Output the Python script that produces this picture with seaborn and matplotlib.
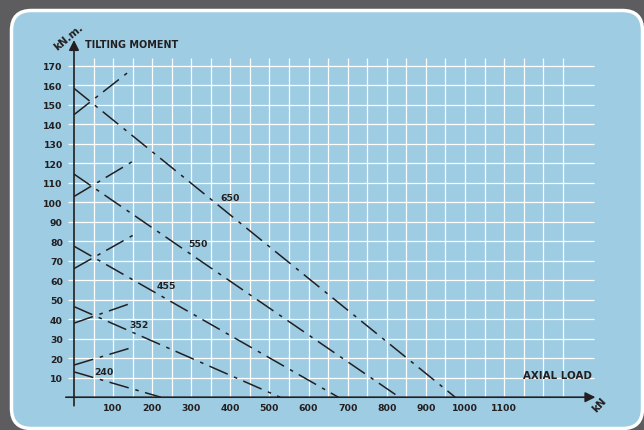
import matplotlib
matplotlib.use("Agg")
import matplotlib.pyplot as plt
import pandas as pd
import seaborn as sns
from matplotlib.patches import FancyBboxPatch

# rating of each limit curve
ratings = ["650", "550", "455", "352", "240"]
# tilting moment where each limit line starts on the y axis (kN.m)
moment_at_zero_load = [158.5, 114.5, 77.5, 46.5, 13.0]
# axial load where each limit line reaches the x axis (kN)
load_at_zero_moment = [975, 832, 676, 527, 222]
# short rising lines from the y axis
rise_start = [145, 103, 66, 38, 16.5]
rise_end = [167, 121, 83, 48.5, 25.6]
rise_end_load = [140, 150, 150, 150, 150]
# where the rating numbers are written
label_load = [375, 291, 211, 141, 53]
label_moment = [102.6, 79.0, 57.2, 37.2, 13.4]

x_ticks = list(range(100, 1200, 100))
y_ticks = list(range(10, 180, 10))
grid_x = list(range(50, 1300, 50))

dark = "#231f20"
blue = "#9dcce3"
gray = "#5d5d5f"

sns.set_style("white")
plt.rcParams["font.family"] = ["DejaVu Sans"]
plt.rcParams["font.weight"] = "bold"

W, H = 644, 431
fig = plt.figure(figsize=(W / 100, H / 100), dpi=100)
fig.patch.set_facecolor(gray)

# rounded panel behind the chart
bg = fig.add_axes([0, 0, 1, 1])
bg.set_xlim(0, W)
bg.set_ylim(H, 0)
bg.axis("off")
bg.add_patch(FancyBboxPatch((11.5, 11.5), 631, 418,
                            boxstyle="round,pad=0,rounding_size=20",
                            fc=blue, ec="white", lw=2.5))

ax = fig.add_axes([74 / W, (H - 398.2) / H, 520 / W, 341 / H])
ax.set_xlim(0, 1330)
ax.set_ylim(0, 175)
ax.patch.set_alpha(0)
for s in ax.spines.values():
    s.set_visible(False)

# white grid
ax.hlines(y_ticks, -15, 1330, color="white", lw=0.9, clip_on=False, zorder=1)
ax.vlines(grid_x, 0, 174, color="white", lw=0.9, clip_on=False, zorder=1)

# limit lines
rows = []
for r, m, l in zip(ratings, moment_at_zero_load, load_at_zero_moment):
    rows.append({"rating": r, "load": 0, "moment": m})
    rows.append({"rating": r, "load": l, "moment": 0})
limits = pd.DataFrame(rows)

rows = []
for r, a, b, l in zip(ratings, rise_start, rise_end, rise_end_load):
    rows.append({"rating": r, "load": 0, "moment": a})
    rows.append({"rating": r, "load": l, "moment": b})
rises = pd.DataFrame(rows)

dash = (13.1, 4.5, 2.3, 4.3)
for df in (limits, rises):
    sns.lineplot(data=df, x="load", y="moment", hue="rating", style="rating",
                 palette=[dark] * 5, dashes=[dash] * 5, lw=1.1, legend=False,
                 estimator=None, sort=False, ax=ax, zorder=3)

for r, lx, ly in zip(ratings, label_load, label_moment):
    ax.text(lx, ly, r, ha="left", va="center", fontsize=6.7,
            fontweight="heavy", color=dark)

# axes with arrows
arrow = dict(arrowstyle="-|>,head_length=0.6,head_width=0.3", color=dark,
             lw=1.2, shrinkA=0, shrinkB=0)
ax.annotate("", xy=(0, 183.3), xytext=(0, -4.4), arrowprops=arrow,
            annotation_clip=False, zorder=4)
ax.annotate("", xy=(1333.5, 0), xytext=(-21, 0), arrowprops=arrow,
            annotation_clip=False, zorder=4)

ax.set_xticks(x_ticks)
ax.set_yticks(y_ticks)
ax.tick_params(axis="both", length=0, labelsize=6.7, labelcolor=dark)
ax.tick_params(axis="y", pad=8)
ax.tick_params(axis="x", pad=4.3)
ax.set_xlabel("")
ax.set_ylabel("")

ax.text(28, 181.3, "TILTING MOMENT", ha="left", va="center", fontsize=6.9,
        fontweight="bold", color=dark)
ax.text(1324, 11.4, "AXIAL LOAD", ha="right", va="center", fontsize=7.4,
        fontweight="bold", color=dark)
ax.text(-14.6, 184.9, "kN.m.", rotation=40, ha="center", va="center",
        rotation_mode="anchor", fontsize=7.5, fontweight="bold", color=dark)
ax.text(1343, -3.5, "kN", rotation=47, ha="center", va="center",
        rotation_mode="anchor", fontsize=7.5, fontweight="bold", color=dark)

fig.savefig("out.png", dpi=100, facecolor=fig.get_facecolor())
